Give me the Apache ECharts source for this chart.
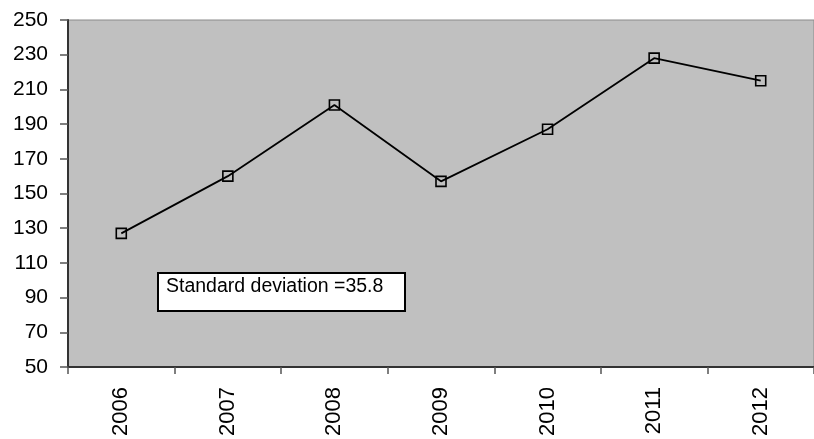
<!DOCTYPE html>
<html>
<head>
<meta charset="utf-8">
<script src="https://cdn.jsdelivr.net/npm/echarts@6/dist/echarts.min.js"></script>
<style>
  html, body { margin: 0; padding: 0; background: #ffffff; }
  #chart { width: 814px; height: 439px; }
</style>
</head>
<body>
<div id="chart"></div>
<script>
// Yearly values plotted as a line with square markers
const years = ['2006', '2007', '2008', '2009', '2010', '2011', '2012'];
const values = [127, 160, 201, 157, 187, 228, 215];
const yTicks = { min: 50, max: 250, step: 20 };
const noteText = 'Standard deviation =35.8';

const FONT = '"Liberation Sans", Arial, sans-serif';
const chart = echarts.init(document.getElementById('chart'), null, { renderer: 'canvas' });

chart.setOption({
  animation: false,
  grid: {
    left: 68,
    top: 20,
    width: 754,
    bottom: 72,
    show: true,
    backgroundColor: '#c0c0c0',
    borderColor: '#8a8a8a',
    borderWidth: 1
  },
  xAxis: {
    type: 'category',
    data: years,
    boundaryGap: true,
    axisLine: { show: true, lineStyle: { color: '#333333', width: 2 } },
    axisTick: { show: true, length: 7, lineStyle: { color: '#555555', width: 1.5 } },
    axisLabel: {
      rotate: 90,
      margin: 20,
      color: '#000000',
      fontFamily: FONT,
      fontSize: 22
    },
    splitLine: { show: false }
  },
  yAxis: {
    type: 'value',
    min: yTicks.min,
    max: yTicks.max,
    interval: yTicks.step,
    axisLine: { show: true, lineStyle: { color: '#333333', width: 2 } },
    axisTick: { show: true, length: 8, lineStyle: { color: '#555555', width: 1.5 } },
    axisLabel: {
      margin: 20,
      color: '#000000',
      fontFamily: FONT,
      fontSize: 21
    },
    splitLine: { show: false }
  },
  series: [{
    type: 'line',
    data: values,
    symbol: 'rect',
    symbolSize: 10,
    showAllSymbol: true,
    lineStyle: { color: '#000000', width: 1.8 },
    itemStyle: { color: 'rgba(0,0,0,0)', borderColor: '#000000', borderWidth: 1.6 },
    emphasis: { disabled: true },
    z: 3
  }],
  graphic: [{
    type: 'group',
    left: 157,
    top: 272,
    z: 10,
    children: [{
      type: 'rect',
      shape: { x: 0, y: 0, width: 247, height: 38 },
      style: { fill: '#ffffff', stroke: '#000000', lineWidth: 2 }
    }, {
      type: 'text',
      x: 8,
      y: 4,
      style: {
        text: noteText,
        fill: '#000000',
        font: '19.5px ' + FONT,
        textVerticalAlign: 'top'
      }
    }]
  }]
});
</script>
</body>
</html>
